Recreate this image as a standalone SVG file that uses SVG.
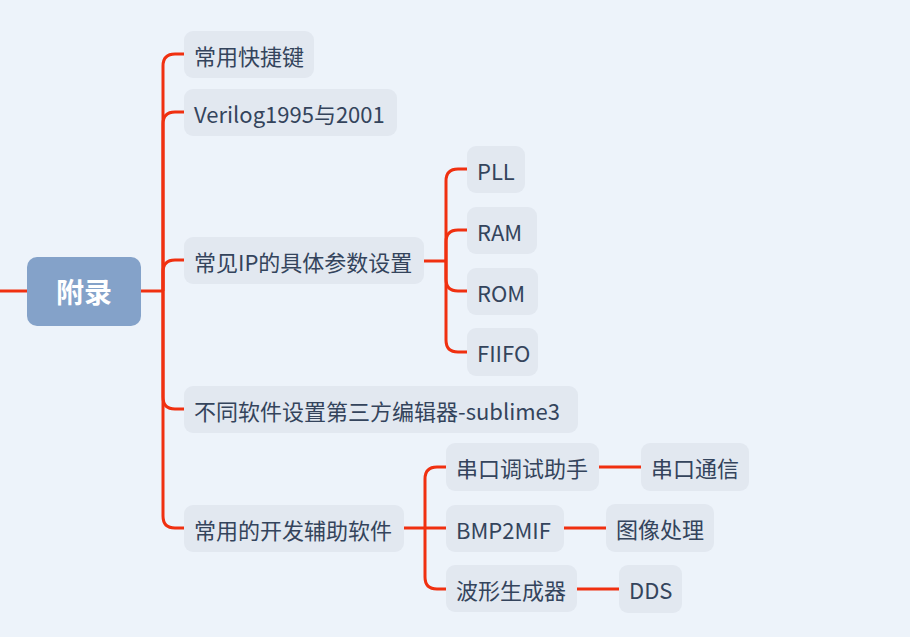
<svg xmlns="http://www.w3.org/2000/svg" width="910" height="637" viewBox="0 0 910 637">
<style>
.bg{fill:#edf3fa}
.n rect{fill:#e2e8f0}
.n text{font-family:"Noto Sans CJK SC","Noto Sans",sans-serif;font-size:22px;fill:#34445c;dominant-baseline:central}
.root rect{fill:#84a2c9}
.root text{font-family:"Noto Sans CJK SC","Noto Sans",sans-serif;font-size:28px;font-weight:bold;fill:#ffffff;dominant-baseline:central;text-anchor:middle}
.c path{fill:none;stroke:#f03010;stroke-width:3;stroke-linecap:butt}
</style>
<rect class="bg" x="0" y="0" width="910" height="637"/>
<g class="c" id="connectors">
<path d="M0 291 H27"/>
<path d="M141 291 H163"/>
<path d="M163 291 V66 Q163 54 175 54 H184"/>
<path d="M163 291 V124 Q163 112 175 112 H184"/>
<path d="M163 291 V272 Q163 260 175 260 H184"/>
<path d="M163 291 V397 Q163 409 175 409 H184"/>
<path d="M163 291 V516 Q163 528 175 528 H184"/>
<path d="M424 261 H446"/>
<path d="M446 261 V181 Q446 169 458 169 H467"/>
<path d="M446 261 V242 Q446 230 458 230 H467"/>
<path d="M446 261 V279 Q446 291 458 291 H467"/>
<path d="M446 261 V340 Q446 352 458 352 H467"/>
<path d="M404 528 H446"/>
<path d="M425 528 V479 Q425 467 437 467 H446"/>
<path d="M425 528 V577 Q425 589 437 589 H446"/>
<path d="M599 467 H641"/>
<path d="M564 528 H606"/>
<path d="M577 589 H619"/>
</g>
<g class="root" id="node-root"><rect x="27" y="257" width="114" height="69" rx="10"/><text x="84" y="291">附录</text></g>
<g class="n" id="node-shortcut"><rect x="184" y="31" width="130" height="47" rx="9"/><text x="194" y="54.5">常用快捷键</text></g>
<g class="n" id="node-verilog"><rect x="184" y="89" width="213" height="47" rx="9"/><text x="194" y="112.5">Verilog1995与2001</text></g>
<g class="n" id="node-ip"><rect x="184" y="237" width="240" height="47" rx="9"/><text x="194" y="260.5">常见IP的具体参数设置</text></g>
<g class="n" id="node-editor"><rect x="184" y="386" width="394" height="47" rx="9"/><text x="194" y="409.5">不同软件设置第三方编辑器-sublime3</text></g>
<g class="n" id="node-tools"><rect x="184" y="505" width="220" height="47" rx="9"/><text x="194" y="528.5">常用的开发辅助软件</text></g>
<g class="n" id="node-pll"><rect x="467" y="146" width="58" height="47" rx="9"/><text x="477" y="169.5">PLL</text></g>
<g class="n" id="node-ram"><rect x="467" y="207" width="70" height="47" rx="9"/><text x="477" y="230.5">RAM</text></g>
<g class="n" id="node-rom"><rect x="467" y="268" width="71" height="47" rx="9"/><text x="477" y="291.5">ROM</text></g>
<g class="n" id="node-fifo"><rect x="467" y="328" width="71" height="48" rx="9"/><text x="477" y="352">FIIFO</text></g>
<g class="n" id="node-serial"><rect x="446" y="443" width="153" height="48" rx="9"/><text x="456" y="467">串口调试助手</text></g>
<g class="n" id="node-bmp"><rect x="446" y="505" width="118" height="47" rx="9"/><text x="456" y="528.5">BMP2MIF</text></g>
<g class="n" id="node-wave"><rect x="446" y="565" width="131" height="47" rx="9"/><text x="456" y="588.5">波形生成器</text></g>
<g class="n" id="node-comm"><rect x="641" y="443" width="108" height="48" rx="9"/><text x="651" y="467">串口通信</text></g>
<g class="n" id="node-image"><rect x="606" y="504" width="108" height="48" rx="9"/><text x="616" y="528">图像处理</text></g>
<g class="n" id="node-dds"><rect x="619" y="565" width="63" height="48" rx="9"/><text x="629" y="589">DDS</text></g>
</svg>
